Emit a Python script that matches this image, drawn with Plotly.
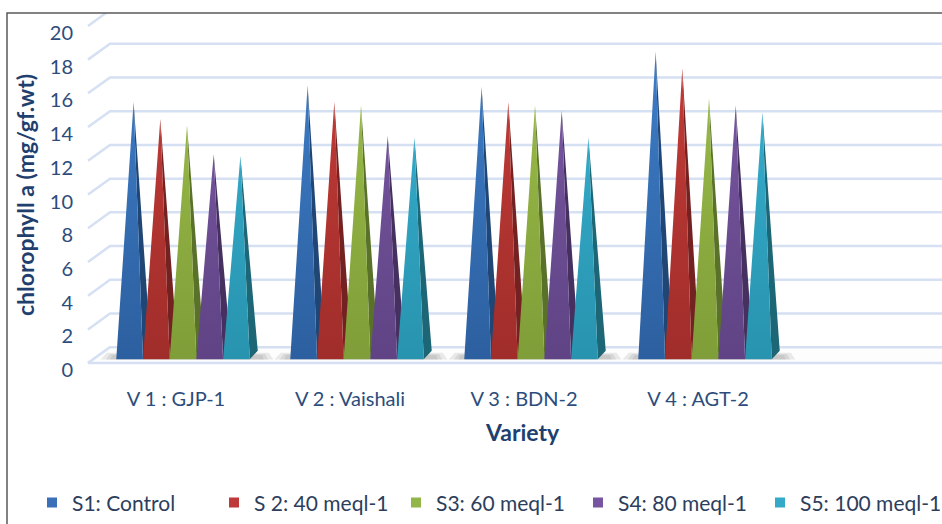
import plotly.graph_objects as go

# ---------------- data ----------------
varieties = ["V 1 : GJP-1", "V 2 : Vaishali", "V 3 : BDN-2", "V 4 : AGT-2"]
series_names = ["S1: Control", "S 2: 40 meql-1", "S3: 60 meql-1", "S4: 80 meql-1", "S5: 100 meql-1"]
s1 = [15.0, 16.0, 15.9, 18.0]
s2 = [14.0, 15.0, 15.0, 17.0]
s3 = [13.6, 14.8, 14.8, 15.2]
s4 = [11.9, 13.0, 14.5, 14.8]
s5 = [11.8, 12.9, 12.9, 14.4]
y_ticks = [0, 2, 4, 6, 8, 10, 12, 14, 16, 18, 20]

series_values = [s1, s2, s3, s4, s5]
front_bottom = ["#2c5f9f", "#a02d2a", "#7f9d38", "#5f4384", "#2893ae"]
front_top = ["#3d7cc6", "#c23b37", "#9bbd4a", "#7a58a3", "#36b0d0"]
side_colors = ["#1f4675", "#742221", "#5a7129", "#45305f", "#1d6676"]
legend_colors = ["#3a70b8", "#c0393a", "#92b64a", "#7755a0", "#35a9c8"]

# ---------------- geometry (axis units) ----------------
W, H = 942, 524
L_M, T_M, R_M, B_M = 74, 13, 0, 144
PX_X = 174.0            # px per category
PX_Y = 17.0             # px per y unit
x0_px = 176.0           # px position of category 0
y0_px = 366.0           # px position of y = 0 (front)
plot_bottom_px = H - B_M
plot_w = W - L_M - R_M
plot_h = H - T_M - B_M

x_range = [(L_M - x0_px) / PX_X, (W - R_M - x0_px) / PX_X]
y_range = [(y0_px - plot_bottom_px) / PX_Y, (y0_px - T_M) / PX_Y]

bar_w = 26.7 / PX_X
hw = bar_w / 2
group_shift = 7 / PX_X
depth_dx = 8 / PX_X
depth_dy = 8.5 / PX_Y
base_y = 4 / PX_Y
wall_dx = 22 / PX_X
wall_dy = 16 / PX_Y
front_left = (88 - x0_px) / PX_X

fig = go.Figure()

grid_color = "#d5e0f2"
# back-wall gridlines + left-wall diagonals
gx, gy = [], []
for t in y_ticks:
    gx += [front_left, front_left + wall_dx, x_range[1] + 1, None]
    gy += [t, t + wall_dy, t + wall_dy, None]
fig.add_trace(go.Scatter(x=gx, y=gy, mode="lines", line=dict(color=grid_color, width=2.5),
                         hoverinfo="skip", showlegend=False))

# floor slab
fx = [front_left, x_range[1] + 1, x_range[1] + 1, front_left + wall_dx, front_left]
fy = [0, 0, wall_dy, wall_dy, 0]
fig.add_trace(go.Scatter(x=fx, y=fy, mode="lines", fill="toself", fillcolor="#fdfdfe",
                         line=dict(color=grid_color, width=2.5), hoverinfo="skip", showlegend=False))

# soft shadows on the floor (layered for a blurred look)
for k, (ex, top) in enumerate([(0.09, 0.75), (0.06, 0.6), (0.035, 0.45)]):
    shx, shy = [], []
    for i in range(len(varieties)):
        gl = i + group_shift - 2.5 * bar_w
        gr = i + group_shift + 2.5 * bar_w
        shx += [gl - ex, gr + depth_dx + ex, gr + depth_dx + ex * 0.7, gl - ex * 0.6, gl - ex, None]
        shy += [base_y - 0.02, base_y - 0.02, base_y + depth_dy * top, base_y + depth_dy * top,
                base_y - 0.02, None]
    fig.add_trace(go.Scatter(x=shx, y=shy, mode="lines", fill="toself",
                             fillcolor="rgba(100,100,100,0.13)", line=dict(width=0),
                             hoverinfo="skip", showlegend=False))

# pyramids
for j, vals in enumerate(series_values):
    sx, sy, fxs, fys = [], [], [], []
    for i, v in enumerate(vals):
        cx = i + group_shift + (j - 2) * bar_w
        ax = cx + depth_dx / 2
        ay = base_y + depth_dy / 2 + v
        # side face
        sx += [cx + hw, cx + hw + depth_dx, ax, cx + hw, None]
        sy += [base_y, base_y + depth_dy, ay, base_y, None]
        # front face
        fxs += [cx - hw, cx + hw, ax, cx - hw, None]
        fys += [base_y, base_y, ay, base_y, None]
    fig.add_trace(go.Scatter(x=sx, y=sy, mode="lines", fill="toself", fillcolor=side_colors[j],
                             line=dict(width=0), hoverinfo="skip", showlegend=False))
    fig.add_trace(go.Scatter(x=fxs, y=fys, mode="lines", fill="toself",
                             fillgradient=dict(type="vertical", start=0, stop=18,
                                               colorscale=[[0, front_bottom[j]], [1, front_top[j]]]),
                             line=dict(width=0), name=series_names[j], showlegend=False,
                             hovertemplate="%{fullData.name}<extra></extra>"))

# legend entries
for j, name in enumerate(series_names):
    fig.add_trace(go.Scatter(x=[None], y=[None], mode="markers", name=name,
                             marker=dict(symbol="square", size=10, color=legend_colors[j])))

text_blue = "#2c4d7c"
title_blue = "#1f3f6e"
font_family = "Lato, 'Open Sans', sans-serif"

fig.update_layout(
    width=W, height=H,
    margin=dict(l=L_M, r=R_M, t=T_M, b=B_M),
    paper_bgcolor="white", plot_bgcolor="white",
    font=dict(family=font_family, size=20, color=text_blue),
    xaxis=dict(range=x_range, tickmode="array", tickvals=list(range(len(varieties))),
               ticktext=varieties, showgrid=False, zeroline=False, showline=False,
               ticks="outside", ticklen=4, tickcolor="rgba(0,0,0,0)",
               tickfont=dict(size=20, color=text_blue)),
    yaxis=dict(range=y_range, tickmode="array", tickvals=y_ticks, showgrid=False,
               zeroline=False, showline=False, ticks="", ticklabelshift=7,
               tickfont=dict(size=20, color=text_blue),
               title=dict(text="<b>chlorophyll a (mg/gf.wt)</b>", standoff=8,
                          font=dict(size=23, color=title_blue))),
    legend=dict(orientation="h", x=(48 - L_M) / plot_w, xanchor="left",
                y=(plot_bottom_px - 507) / plot_h, yanchor="middle",
                font=dict(size=21, color="#2c3e5c"), itemwidth=30, bgcolor="rgba(0,0,0,0)",
                entrywidth=137, entrywidthmode="pixels"),
    annotations=[dict(text="<b>Variety</b>", xref="paper", yref="paper",
                      x=(522 - L_M) / plot_w, y=(plot_bottom_px - 435) / plot_h,
                      xanchor="center", yanchor="middle", showarrow=False,
                      font=dict(size=23, color=title_blue))],
    shapes=[dict(type="rect", xref="paper", yref="paper",
                 x0=(7 - L_M) / plot_w, x1=1.05, y0=-1.0, y1=1.0,
                 line=dict(color="#595959", width=1.5), fillcolor="rgba(0,0,0,0)", layer="above")],
)

fig.write_html("out.html")
